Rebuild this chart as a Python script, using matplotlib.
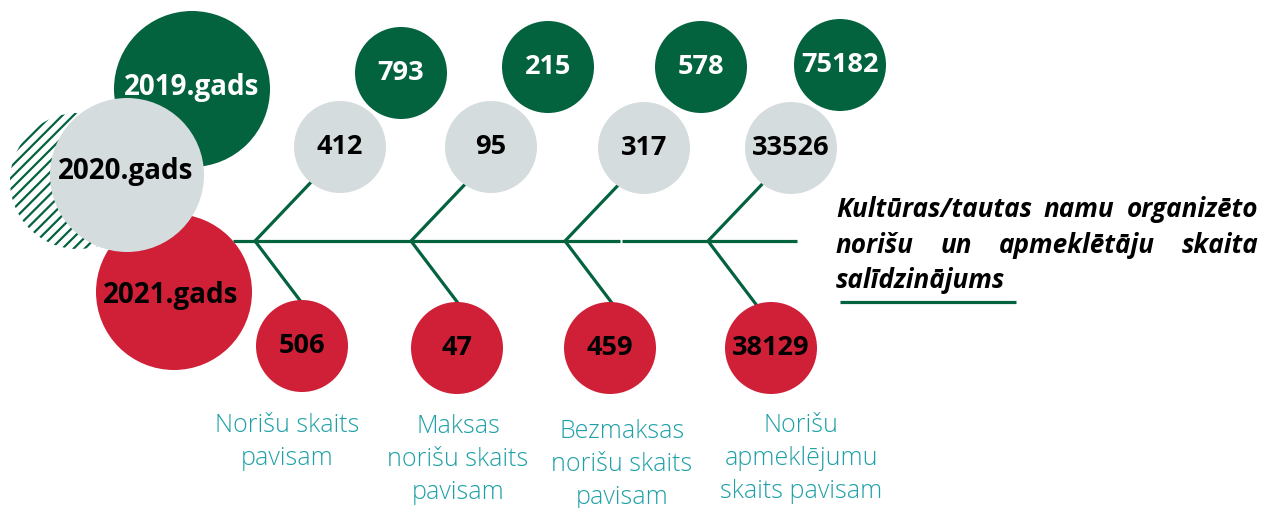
import matplotlib
matplotlib.use("Agg")
import matplotlib.pyplot as plt
from matplotlib.patches import Circle

plt.rcParams['font.family'] = ['Open Sans', 'DejaVu Sans']
plt.rcParams['hatch.linewidth'] = 1.6

# data
years = ['2019.gads', '2020.gads', '2021.gads']
v2019 = [793, 215, 578, 75182]
v2020 = [412, 95, 317, 33526]
v2021 = [506, 47, 459, 38129]
categories = ['Norišu skaits\npavisam', 'Maksas\nnorišu skaits\npavisam',
              'Bezmaksas\nnorišu skaits\npavisam', 'Norišu\napmeklējumu\nskaits pavisam']
title_lines = ['Kultūras/tautas namu organizēto',
               'norišu un apmeklētāju skaita',
               'salīdzinājums']

GREEN = '#04633F'
GRAY = '#D5DCDD'
RED = '#CF2038'
TEAL = '#1FA0A6'

# layout (pixel coordinates)
joints_x = [255, 411, 565, 708]
spine_y = 241
top_c = [(401, 73), (548, 67), (701, 67), (840, 65)]
mid_c = [(340, 147), (491, 147), (644, 148), (791, 148)]
bot_c = [(302, 346), (457, 348), (610, 348), (771, 348)]
r_small = 46
label_x = [287, 458, 622, 801]
label_y = [425, 426, 431, 425]

fig = plt.figure(figsize=(12.64, 5.08), dpi=100)
ax = fig.add_axes([0, 0, 1, 1])
ax.set_xlim(0, 1264)
ax.set_ylim(508, 0)
ax.axis('off')

lw = 2.3
# spine
ax.plot([233, 620], [spine_y, spine_y], color=GREEN, lw=lw, zorder=1, solid_capstyle='butt')
ax.plot([622, 797], [spine_y, spine_y], color=GREEN, lw=lw, zorder=1, solid_capstyle='butt')
for jx in joints_x:
    ax.plot([jx + 60, jx, jx + 50], [spine_y - 63, spine_y, spine_y + 66],
            color=GREEN, lw=lw, zorder=1, solid_joinstyle='miter')

# big legend circles
ax.add_patch(Circle((192, 89), 78, color=GREEN, lw=0, zorder=2))
ax.add_patch(Circle((78, 181), 68, facecolor='white', edgecolor=GREEN, hatch='///', lw=0, zorder=2))
ax.add_patch(Circle((174, 292), 78, color=RED, lw=0, zorder=3))
ax.add_patch(Circle((127, 175), 77, color=GRAY, lw=0, zorder=4))
ax.text(192, 88, years[0], color='white', fontsize=20, fontweight='bold', ha='center', va='center', zorder=5)
ax.text(126, 172, years[1], color='black', fontsize=20, fontweight='bold', ha='center', va='center', zorder=5)
ax.text(171, 296, years[2], color='black', fontsize=20, fontweight='bold', ha='center', va='center', zorder=5)

# value circles
for vals, centers, fc, tc in [(v2019, top_c, GREEN, 'white'), (v2020, mid_c, GRAY, 'black'),
                              (v2021, bot_c, RED, 'black')]:
    for v, (cx, cy) in zip(vals, centers):
        ax.add_patch(Circle((cx, cy), r_small, color=fc, lw=0, zorder=3))
        ax.text(cx, cy, str(v), color=tc, fontsize=19.5, fontweight='bold',
                ha='center', va='center', zorder=5)

# category labels
for lab, x, y in zip(categories, label_x, label_y):
    ax.text(x, y - 12, lab, color=TEAL, fontsize=18, fontweight='light',
            ha='center', va='top', linespacing=1.42)

# justified title
fig.canvas.draw()
rend = fig.canvas.get_renderer()
left, right = 836, 1258
baselines = [217, 253, 288]
for i, (line, yb) in enumerate(zip(title_lines, baselines)):
    words = line.split(' ')
    ts = [ax.text(0, yb, w, fontsize=18.8, fontweight='bold', fontstyle='italic',
                  ha='left', va='baseline') for w in words]
    widths = [t.get_window_extent(rend).width for t in ts]
    if i < len(title_lines) - 1 and len(words) > 1:
        gap = (right - left - sum(widths)) / (len(words) - 1)
    else:
        gap = 6
    x = left
    for t, w in zip(ts, widths):
        t.set_x(x)
        x += w + gap
ax.plot([840, 1016], [302, 302], color=GREEN, lw=lw, solid_capstyle='butt')

fig.savefig('out.png', dpi=100)
